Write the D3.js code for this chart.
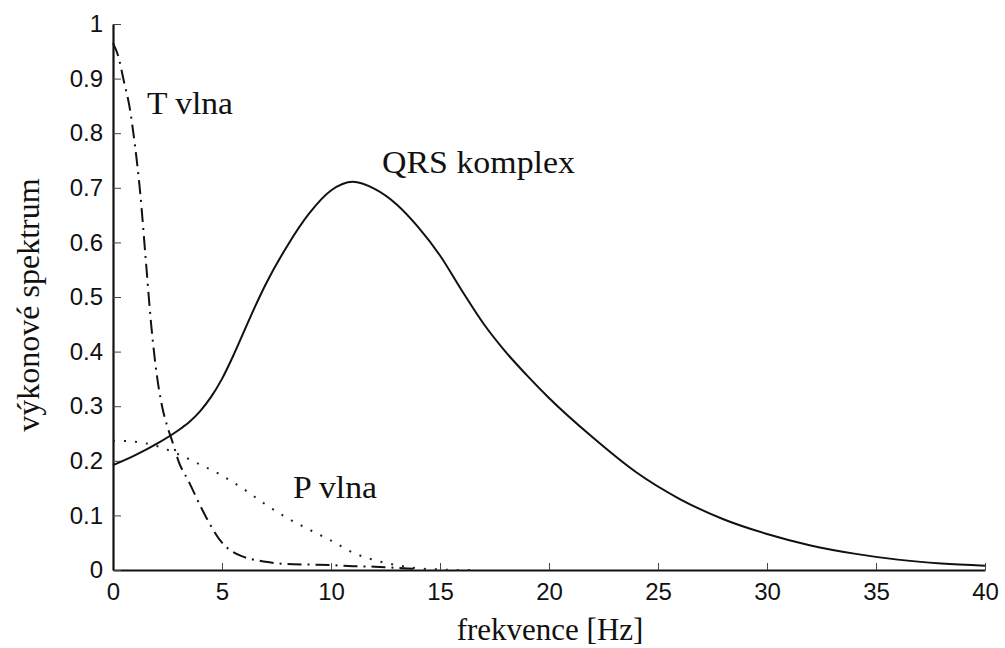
<!DOCTYPE html>
<html>
<head>
<meta charset="utf-8">
<script src="https://cdn.jsdelivr.net/npm/d3@7/dist/d3.min.js"></script>
<style>
  html, body { margin: 0; padding: 0; background: #fff; }
  svg { display: block; }
  .tick text { font-family: "Liberation Sans", Arial, sans-serif; fill: #111; }
  .lbl { font-family: "Liberation Serif", "Times New Roman", serif; fill: #111; }
</style>
</head>
<body>
<svg id="chart" width="1005" height="648"></svg>
<script>
// Frequency axis [Hz]
const xTicks = [0, 5, 10, 15, 20, 25, 30, 35, 40];
const yTicks = [0, 0.1, 0.2, 0.3, 0.4, 0.5, 0.6, 0.7, 0.8, 0.9, 1];
const yTickLabels = ["0", "0.1", "0.2", "0.3", "0.4", "0.5", "0.6", "0.7", "0.8", "0.9", "1"];

// QRS complex power spectrum
const qrsFreq = [0, 1, 2, 3, 3.5, 4, 4.5, 5, 5.5, 6, 6.5, 7, 8, 9, 10, 11, 12, 13, 14, 15, 16, 17, 18, 19, 20, 22, 24, 26, 28, 30, 32, 34, 36, 38, 40];
const qrsPower = [0.192, 0.210, 0.231, 0.256, 0.271, 0.291, 0.317, 0.350, 0.391, 0.436, 0.481, 0.523, 0.594, 0.653, 0.695, 0.711, 0.698, 0.670, 0.628, 0.576, 0.512, 0.451, 0.400, 0.356, 0.315, 0.243, 0.179, 0.130, 0.093, 0.066, 0.045, 0.030, 0.019, 0.012, 0.008];

// T wave power spectrum
const tFreq = [0, 0.25, 0.5, 0.75, 1, 1.25, 1.5, 1.75, 2, 2.25, 2.5, 2.75, 3, 3.5, 4, 4.5, 5, 5.5, 6, 7, 8, 9, 10, 11, 12, 13, 14];
const tPower = [0.965, 0.94, 0.895, 0.85, 0.78, 0.69, 0.57, 0.45, 0.36, 0.30, 0.262, 0.232, 0.200, 0.160, 0.118, 0.080, 0.050, 0.033, 0.024, 0.015, 0.011, 0.010, 0.009, 0.007, 0.006, 0.004, 0.002];

// P wave power spectrum
const pFreq = [0, 1, 2, 3, 4, 5, 6, 7, 8, 9, 10, 11, 12, 13, 14, 15, 16, 16.7];
const pPower = [0.237, 0.235, 0.227, 0.212, 0.193, 0.173, 0.148, 0.120, 0.095, 0.074, 0.054, 0.032, 0.018, 0.009, 0.003, 0.001, 0, 0];

const svg = d3.select("#chart");
const plotLeft = 113, plotRight = 985, plotTop = 24, plotBottom = 570;

const x = d3.scaleLinear().domain([0, 40]).range([plotLeft, plotRight]);
const y = d3.scaleLinear().domain([0, 1]).range([plotBottom, plotTop]);

// Axes: ticks point inward, only left and bottom spines
const gx = svg.append("g").attr("transform", `translate(0,${plotBottom})`)
  .call(d3.axisBottom(x).tickValues(xTicks).tickFormat(d3.format("d"))
    .tickSizeInner(-7).tickSizeOuter(0).tickPadding(13));
const gy = svg.append("g").attr("transform", `translate(${plotLeft},0)`)
  .call(d3.axisLeft(y).tickValues(yTicks).tickFormat((d, i) => yTickLabels[i])
    .tickSizeInner(-8).tickSizeOuter(0).tickPadding(10));

[gx, gy].forEach(g => {
  g.select(".domain").attr("stroke", "#111").attr("stroke-width", 2.2);
  g.selectAll(".tick line").attr("stroke", "#444").attr("stroke-width", 1);
  g.selectAll(".tick text").attr("font-size", 24).attr("fill", "#111");
});

const line = (xs, ys) => d3.line()
  .x((d, i) => x(xs[i]))
  .y((d, i) => y(ys[i]))
  .curve(d3.curveMonotoneX)(ys);

// QRS complex – solid
svg.append("path").attr("d", line(qrsFreq, qrsPower))
  .attr("fill", "none").attr("stroke", "#111").attr("stroke-width", 2);

// T wave – dash-dot
svg.append("path").attr("d", line(tFreq, tPower))
  .attr("fill", "none").attr("stroke", "#111").attr("stroke-width", 2)
  .attr("stroke-dasharray", "14,6,2,6");

// P wave – dotted
svg.append("path").attr("d", line(pFreq, pPower))
  .attr("fill", "none").attr("stroke", "#222").attr("stroke-width", 2)
  .attr("stroke-dasharray", "2,9");

// Curve labels
const curveLabel = (tx, ty, str, w) => svg.append("text").attr("class", "lbl")
  .attr("x", tx).attr("y", ty).attr("font-size", 31)
  .attr("textLength", w).attr("lengthAdjust", "spacingAndGlyphs").text(str);
curveLabel(147, 114, "T vlna", 86);
curveLabel(382, 173, "QRS komplex", 193);
curveLabel(293, 498, "P vlna", 84);

// Axis titles
svg.append("text").attr("class", "lbl").attr("x", 550).attr("y", 640)
  .attr("text-anchor", "middle").attr("font-size", 31).text("frekvence [Hz]");
svg.append("text").attr("class", "lbl")
  .attr("transform", "translate(39,305) rotate(-90)")
  .attr("text-anchor", "middle").attr("font-size", 32).text("výkonové spektrum");
</script>
</body>
</html>
